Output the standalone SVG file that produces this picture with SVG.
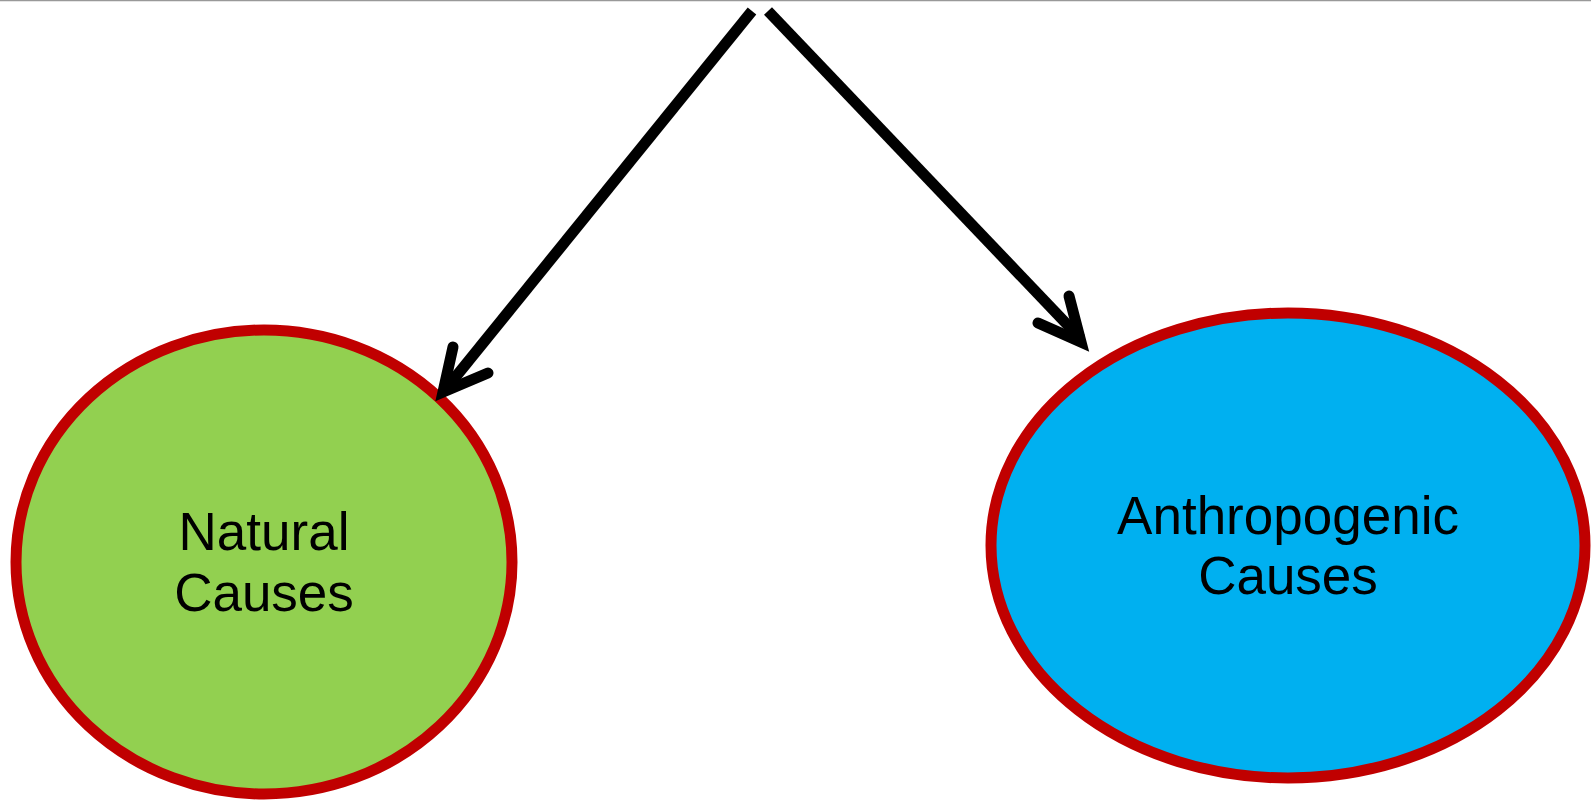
<svg xmlns="http://www.w3.org/2000/svg" width="1591" height="800" viewBox="0 0 1591 800">
<style>
.node{stroke:#C00000;stroke-width:11}
.lbl{font-family:"Liberation Sans",Arial,sans-serif;font-size:53px;fill:#000;text-anchor:middle}
.shaft{stroke:#000;stroke-width:11;fill:none;stroke-linecap:butt}
.head{stroke:#000;stroke-width:11;fill:none;stroke-linecap:round;stroke-linejoin:miter}
</style>
<rect width="1591" height="800" fill="#fff"/>
<line x1="0" y1="0.5" x2="1591" y2="0.5" stroke="#999" stroke-width="1.5"/>
<g id="natural">
<ellipse class="node" cx="264" cy="562" rx="248" ry="232" fill="#92D050"/>
<text class="lbl" x="264" y="550">Natural</text>
<text class="lbl" x="264" y="611">Causes</text>
</g>
<g id="anthropogenic">
<ellipse class="node" cx="1288" cy="545.5" rx="297" ry="232.5" fill="#00B0F0"/>
<text class="lbl" x="1288" y="534">Anthropogenic</text>
<text class="lbl" x="1288" y="594">Causes</text>
</g>
<g id="connectors">
<line class="shaft" x1="752" y1="11" x2="445" y2="390"/>
<path class="head" d="M453,347 L443,392 L488,373"/>
<line class="shaft" x1="768" y1="11" x2="1081" y2="339"/>
<path class="head" d="M1069,296 L1081,342 L1038,323"/>
</g>
</svg>
